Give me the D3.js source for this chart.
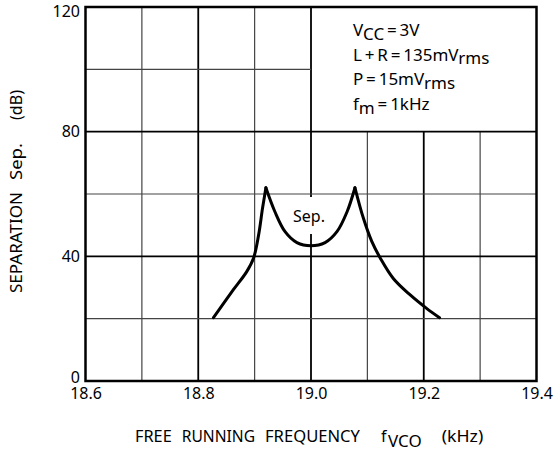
<!DOCTYPE html>
<html>
<head>
<meta charset="utf-8">
<script src="https://cdn.jsdelivr.net/npm/d3@7"></script>
<style>
body{margin:0;background:#fff;}
svg{display:block;font-family:"Noto Sans",sans-serif;}
</style>
</head>
<body>
<svg width="555" height="452"></svg>
<script>
// values
var xTicks = [18.6, 18.8, 19.0, 19.2, 19.4];
var yTicks = [0, 40, 80, 120];
var xGrid = [18.7, 18.8, 18.9, 19.0, 19.1, 19.2, 19.3];
var yGrid = [20, 40, 60, 80, 100];
var freqLeft = [18.827, 18.862, 18.886, 18.898, 18.907, 18.914, 18.920];
var sepLeft  = [20.3, 29.2, 35.1, 39.4, 46.8, 55.4, 62.0];
var freqMid = [18.920, 18.936, 18.954, 18.975, 19.0, 19.025, 19.046, 19.064, 19.078];
var sepMid  = [62.0, 54.3, 47.9, 44.4, 43.4, 44.4, 47.9, 54.3, 62.0];
var freqRight = [19.078, 19.093, 19.108, 19.123, 19.146, 19.176, 19.205, 19.228];
var sepRight  = [62.0, 52.2, 44.7, 39.4, 32.9, 27.6, 23.3, 20.3];
var legendLines = [
  [["V",0],["CC",1],["\u2009=\u20093V",0]],
  [["L\u2009+\u2009R\u2009=\u2009135mV",0],["rms",1]],
  [["P\u2009=\u200915mV",0],["rms",1]],
  [["f",0],["m",1],["\u2009=\u20091kHz",0]]
];
// axis title words: [text, start, length]
var xTitle = [["FREE",135,36.7],["RUNNING",181.7,73.3],["FREQUENCY",265,95]];
var yTitle = [["SEPARATION",0,101],["Sep.",113,37],["(dB)",173,30]];

var svg = d3.select("svg");
var x = d3.scaleLinear().domain([18.6,19.4]).range([85.5,536.5]);
var y = d3.scaleLinear().domain([0,120]).range([381,7]);

var isMajorX = function(v){ return Math.abs(Math.round(v*10)%2)==0; };
var grid = svg.append("g");
// vertical grid, lines right of 19.0 stop at the legend box (80 dB)
grid.selectAll("line.v").data(xGrid).enter().append("line")
    .attr("x1",function(d){return x(d)}).attr("x2",function(d){return x(d)})
    .attr("y1",y(0))
    .attr("y2",function(d){return d>19.0 ? y(80) : y(120)})
    .attr("stroke",function(d){return isMajorX(d)?"#000":"#444"})
    .attr("stroke-width",function(d){return isMajorX(d)?1.8:1.2});
grid.selectAll("line.h").data(yGrid).enter().append("line")
    .attr("y1",function(d){return y(d)}).attr("y2",function(d){return y(d)})
    .attr("x1",x(18.6))
    .attr("x2",function(d){return d>80 ? x(19.0) : x(19.4)})
    .attr("stroke",function(d){return d%40==0?"#000":"#444"})
    .attr("stroke-width",function(d){return d%40==0?1.8:1.2});

// frame
svg.append("rect")
    .attr("x",x(18.6)).attr("y",y(120))
    .attr("width",x(19.4)-x(18.6)).attr("height",y(0)-y(120))
    .attr("fill","none").attr("stroke","#000").attr("stroke-width",2.5);

// curve
var line = d3.line()
    .x(function(d){return x(d[0])})
    .y(function(d){return y(d[1])})
    .curve(d3.curveCatmullRom.alpha(0.5));
[[freqLeft,sepLeft],[freqMid,sepMid],[freqRight,sepRight]].forEach(function(s){
    svg.append("path")
        .datum(d3.zip(s[0],s[1]))
        .attr("d",line)
        .attr("fill","none").attr("stroke","#000")
        .attr("stroke-width",3).attr("stroke-linecap","round").attr("stroke-linejoin","round");
});

// "Sep." label with white backing over the grid
svg.append("rect").attr("x",290).attr("y",197).attr("width",38).attr("height",37).attr("fill","#fff");
svg.append("text").attr("x",309).attr("y",222)
    .attr("text-anchor","middle").attr("font-size",16).text("Sep.");

// tick labels
var xAxis = svg.append("g").attr("transform","translate(0,"+y(0)+")")
    .call(d3.axisBottom(x).tickValues(xTicks).tickSize(0).tickPadding(7).tickFormat(d3.format(".1f")));
xAxis.select(".domain").remove();
xAxis.selectAll("text").attr("font-size",16).attr("font-family","Noto Sans").attr("fill","#000");

var yAxis = svg.append("g").attr("transform","translate("+x(18.6)+",0)")
    .call(d3.axisLeft(y).tickValues(yTicks).tickSize(0).tickPadding(5.5));
yAxis.select(".domain").remove();
yAxis.selectAll("text").attr("font-size",16).attr("font-family","Noto Sans").attr("fill","#000")
    .attr("y",function(d){return d==120?4:(d==0?-4:0)});

// legend
legendLines.forEach(function(parts,i){
    var t = svg.append("text").attr("x",353).attr("y",36+i*24.7).attr("font-size",17);
    var low = 0;
    parts.forEach(function(p){
        var dy = (p[1]?3.5:0) - low;
        low = p[1]?3.5:0;
        t.append("tspan").attr("dy",dy).text(p[0]);
    });
});

// axis titles
xTitle.forEach(function(w){
    svg.append("text").attr("x",w[1]).attr("y",442).attr("font-size",15.5)
        .attr("textLength",w[2]).attr("lengthAdjust","spacingAndGlyphs").text(w[0]);
});
svg.append("text").attr("x",381).attr("y",442).attr("font-size",16).text("f");
svg.append("text").attr("x",388).attr("y",446.5).attr("font-size",16)
    .attr("textLength",33.7).attr("lengthAdjust","spacingAndGlyphs").text("VCO");
svg.append("text").attr("x",441.7).attr("y",442).attr("font-size",16)
    .attr("textLength",41.6).attr("lengthAdjust","spacingAndGlyphs").text("(kHz)");

var yt = svg.append("g").attr("transform","translate(22,293) rotate(-90)");
yTitle.forEach(function(w){
    yt.append("text").attr("x",w[1]).attr("y",0).attr("font-size",15.5)
        .attr("textLength",w[2]).attr("lengthAdjust","spacingAndGlyphs").text(w[0]);
});
</script>
</body>
</html>
